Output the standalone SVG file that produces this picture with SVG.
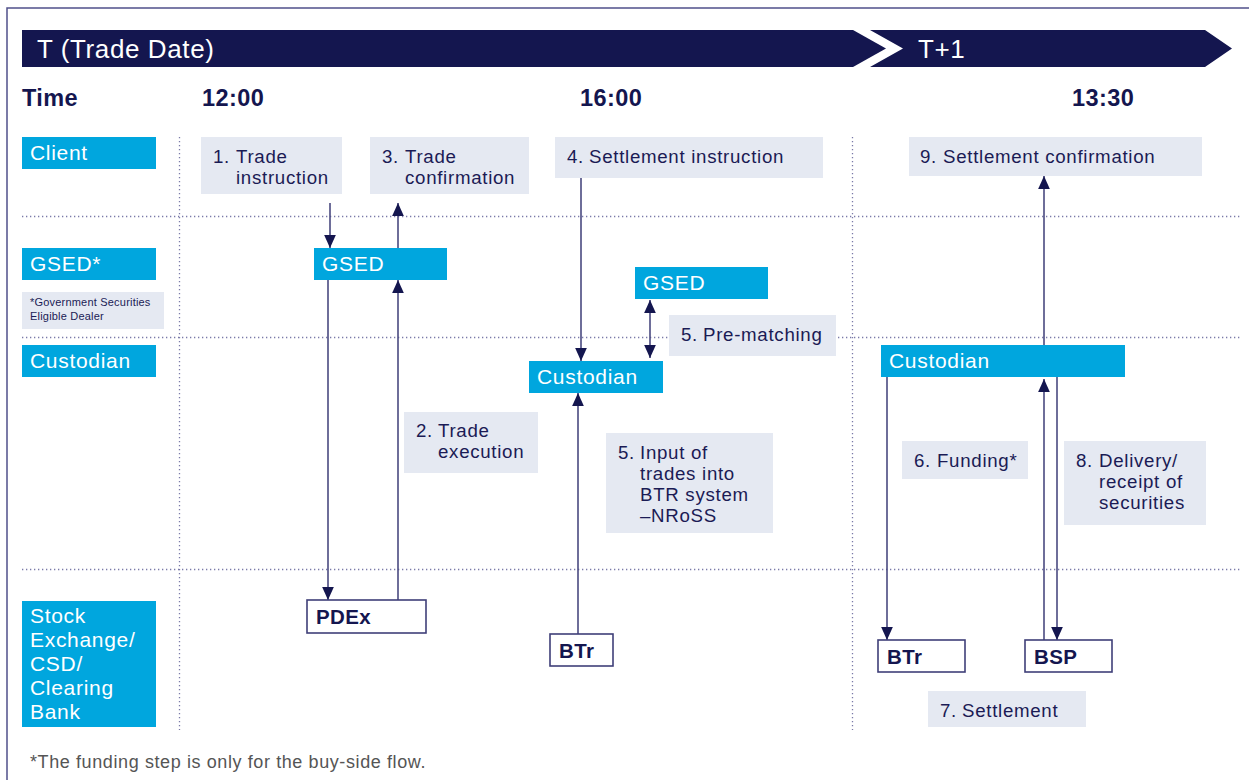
<svg xmlns="http://www.w3.org/2000/svg" width="1249" height="780" viewBox="0 0 1249 780">
<defs>
<marker id="ah" viewBox="0 0 10 10" refX="10" refY="5" markerWidth="13" markerHeight="13" markerUnits="userSpaceOnUse" orient="auto-start-reverse">
<path d="M0,0.5 L10,5 L0,9.5 z" fill="#14164f"/>
</marker>
<style>
text{font-family:"Liberation Sans",Arial,sans-serif}
.band{fill:#14164f}
.bandt{fill:#fff;font-size:26px;letter-spacing:0.6px}
.hdr{fill:#14164f;font-size:23.5px;font-weight:bold;letter-spacing:0.4px}
.blue{fill:#00a6de}
.bt{fill:#fff;font-size:21px;letter-spacing:0.7px}
.step{fill:#e5e9f2}
.st{fill:#1b1b55;font-size:18.7px;letter-spacing:0.7px}
.wb{fill:#fff;stroke:#3f3f78;stroke-width:1.6}
.wt{fill:#14164f;font-size:20.5px;font-weight:bold;letter-spacing:0.4px}
.dot{stroke:#7a7aa8;stroke-width:1.3;stroke-dasharray:1.3 2.7;fill:none}
.ln{stroke:#4a4a80;stroke-width:1.6;fill:none}
</style>
</defs>
<rect width="1249" height="780" fill="#fff"/>
<path d="M7,780 V8 H1249" fill="none" stroke="#50508a" stroke-width="1.5"/>

<g id="timeline">
<polygon class="band" points="22,30 853,30 886,48.5 853,67 22,67"/>
<polygon class="band" points="870,30 1205,30 1232,48.5 1205,67 870,67 903,48.5"/>
<text class="bandt" x="37" y="58">T (Trade Date)</text>
<text class="bandt" x="918" y="58">T+1</text>
</g>

<g id="times">
<text class="hdr" x="22" y="106">Time</text>
<text class="hdr" x="202" y="106">12:00</text>
<text class="hdr" x="580" y="106">16:00</text>
<text class="hdr" x="1072" y="106">13:30</text>
</g>

<g id="gridlines">
<line class="dot" x1="22" y1="216.5" x2="1240" y2="216.5"/>
<line class="dot" x1="22" y1="337.5" x2="1240" y2="337.5"/>
<line class="dot" x1="22" y1="569.5" x2="1240" y2="569.5"/>
<line class="dot" x1="179.5" y1="137" x2="179.5" y2="730"/>
<line class="dot" x1="852.5" y1="137" x2="852.5" y2="730"/>
</g>

<g id="lane-client"><rect class="blue" x="22" y="137" width="134" height="32"/><text class="bt" x="30" y="160">Client</text></g>
<g id="lane-gsed"><rect class="blue" x="22" y="248" width="134" height="32"/><text class="bt" x="30" y="271">GSED*</text></g>
<g id="gsed-note"><rect class="step" x="22" y="292" width="142" height="37"/><text fill="#1b1b55" font-size="11" letter-spacing="0.2"><tspan x="30" y="306">*Government Securities</tspan><tspan x="30" y="320">Eligible Dealer</tspan></text></g>
<g id="lane-custodian"><rect class="blue" x="22" y="345" width="134" height="32"/><text class="bt" x="30" y="368">Custodian</text></g>
<g id="lane-exchange"><rect class="blue" x="22" y="601" width="134" height="126"/>
<text class="bt"><tspan x="30" y="623">Stock</tspan><tspan x="30" y="647">Exchange/</tspan><tspan x="30" y="671">CSD/</tspan><tspan x="30" y="695">Clearing</tspan><tspan x="30" y="719">Bank</tspan></text></g>

<g id="connectors">
<line class="ln" x1="330" y1="203" x2="330" y2="248" marker-end="url(#ah)"/>
<line class="ln" x1="398" y1="248" x2="398" y2="203" marker-end="url(#ah)"/>
<line class="ln" x1="328" y1="280" x2="328" y2="600" marker-end="url(#ah)"/>
<line class="ln" x1="398" y1="600" x2="398" y2="280" marker-end="url(#ah)"/>
<line class="ln" x1="581" y1="178" x2="581" y2="361" marker-end="url(#ah)"/>
<line class="ln" x1="650" y1="300" x2="650" y2="358" marker-start="url(#ah)" marker-end="url(#ah)"/>
<line class="ln" x1="578" y1="634" x2="578" y2="393" marker-end="url(#ah)"/>
<line class="ln" x1="1044" y1="345" x2="1044" y2="176" marker-end="url(#ah)"/>
<line class="ln" x1="887" y1="377" x2="887" y2="640" marker-end="url(#ah)"/>
<line class="ln" x1="1044" y1="640" x2="1044" y2="379" marker-end="url(#ah)"/>
<line class="ln" x1="1057" y1="377" x2="1057" y2="640" marker-end="url(#ah)"/>
</g>

<g id="step1"><rect class="step" x="201" y="137" width="141" height="57"/><text class="st"><tspan x="213" y="163">1.</tspan><tspan x="236" y="163">Trade</tspan><tspan x="236" y="184">instruction</tspan></text></g>
<g id="step3"><rect class="step" x="370" y="137" width="159" height="57"/><text class="st"><tspan x="382" y="163">3.</tspan><tspan x="405" y="163">Trade</tspan><tspan x="405" y="184">confirmation</tspan></text></g>
<g id="step4"><rect class="step" x="555" y="137" width="268" height="41"/><text class="st"><tspan x="567" y="163">4.</tspan><tspan x="589" y="163">Settlement instruction</tspan></text></g>
<g id="step9"><rect class="step" x="909" y="137" width="293" height="39"/><text class="st"><tspan x="920" y="163">9.</tspan><tspan x="943" y="163">Settlement confirmation</tspan></text></g>

<g id="gsed1"><rect class="blue" x="314" y="248" width="133" height="32"/><text class="bt" x="322" y="271">GSED</text></g>
<g id="gsed2"><rect class="blue" x="635" y="267" width="133" height="32"/><text class="bt" x="643" y="290">GSED</text></g>
<g id="step5a"><rect class="step" x="669" y="315" width="167" height="41"/><text class="st"><tspan x="681" y="341">5.</tspan><tspan x="703" y="341">Pre-matching</tspan></text></g>
<g id="custodian1"><rect class="blue" x="529" y="361" width="134" height="32"/><text class="bt" x="537" y="384">Custodian</text></g>
<g id="custodian2"><rect class="blue" x="881" y="345" width="244" height="32"/><text class="bt" x="889" y="368">Custodian</text></g>

<g id="step2"><rect class="step" x="404" y="412" width="134" height="61"/><text class="st"><tspan x="416" y="437">2.</tspan><tspan x="438" y="437">Trade</tspan><tspan x="438" y="458">execution</tspan></text></g>
<g id="step5b"><rect class="step" x="606" y="433" width="167" height="100"/><text class="st"><tspan x="618" y="459">5.</tspan><tspan x="640" y="459">Input of</tspan><tspan x="640" y="480">trades into</tspan><tspan x="640" y="501">BTR system</tspan><tspan x="640" y="522">–NRoSS</tspan></text></g>
<g id="step6"><rect class="step" x="902" y="441" width="126" height="38"/><text class="st"><tspan x="914" y="467">6.</tspan><tspan x="937" y="467">Funding*</tspan></text></g>
<g id="step8"><rect class="step" x="1064" y="441" width="142" height="84"/><text class="st"><tspan x="1076" y="467">8.</tspan><tspan x="1099" y="467">Delivery/</tspan><tspan x="1099" y="488">receipt of</tspan><tspan x="1099" y="509">securities</tspan></text></g>

<g id="pdex"><rect class="wb" x="307" y="600" width="119" height="33"/><text class="wt" x="316" y="624">PDEx</text></g>
<g id="btr1"><rect class="wb" x="550" y="634" width="63" height="32"/><text class="wt" x="559" y="658">BTr</text></g>
<g id="btr2"><rect class="wb" x="878" y="640" width="87" height="32"/><text class="wt" x="887" y="664">BTr</text></g>
<g id="bsp"><rect class="wb" x="1025" y="640" width="87" height="32"/><text class="wt" x="1034" y="664">BSP</text></g>
<g id="step7"><rect class="step" x="928" y="691" width="158" height="36"/><text class="st"><tspan x="940" y="717">7.</tspan><tspan x="962" y="717">Settlement</tspan></text></g>

<text x="30" y="768" fill="#555" font-size="18" letter-spacing="0.6">*The funding step is only for the buy-side flow.</text>
</svg>
